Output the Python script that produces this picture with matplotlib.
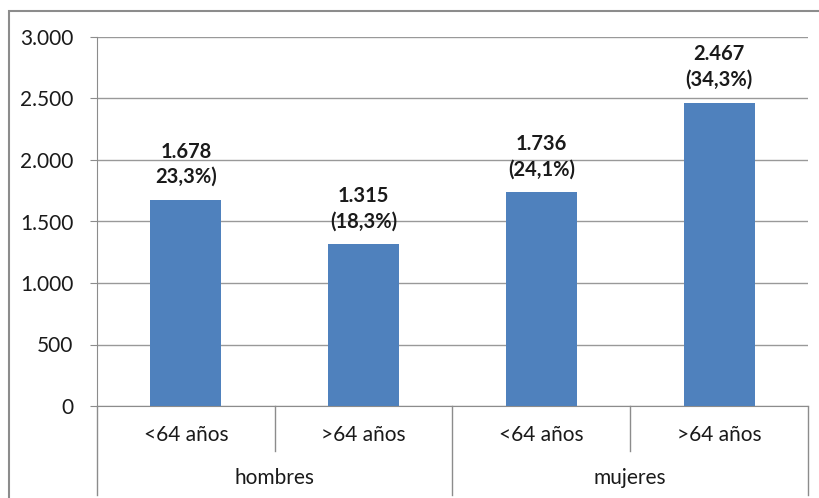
import matplotlib
matplotlib.use("Agg")
import matplotlib.pyplot as plt
from matplotlib.patches import Rectangle
from matplotlib.ticker import FuncFormatter

plt.rcParams['font.family'] = ['Lato', 'DejaVu Sans']

groups = ["hombres", "mujeres"]
subgroups = ["<64 años", ">64 años", "<64 años", ">64 años"]
values = [1678, 1315, 1736, 2467]
labels = ["1.678\n23,3%)", "1.315\n(18,3%)", "1.736\n(24,1%)", "2.467\n(34,3%)"]
yticks = [0, 500, 1000, 1500, 2000, 2500, 3000]

W, H = 820, 498
fig = plt.figure(figsize=(W / 100, H / 100), dpi=100)

# outer chart frame
fig.patches.append(Rectangle((8.5 / W, -0.1), 1.2, (H - 11) / H + 0.1,
                             transform=fig.transFigure, fill=False,
                             edgecolor="#8c8c8c", linewidth=1.5))

ax = fig.add_axes([97 / W, (H - 406) / H, (808 - 97) / W, (406 - 37) / H])
ax.set_xlim(-0.5, 3.5)
ax.set_ylim(0, 3000)

gray = "#8c8c8c"
x = list(range(len(values)))
ax.bar(x, values, width=0.4, color="#4F81BD", zorder=3)

for xi, v, lab in zip(x, values, labels):
    ax.annotate(lab, (xi, v), xytext=(0, 9), textcoords="offset points",
                ha="center", va="bottom", fontsize=14.5, fontweight="bold",
                color="#1a1a1a", linespacing=1.35)

ax.set_yticks(yticks)
ax.yaxis.set_major_formatter(FuncFormatter(lambda v, p: f"{int(v):,}".replace(",", ".")))
ax.tick_params(axis="y", length=5, color=gray, labelsize=15, pad=12, labelcolor="#1a1a1a")
ax.yaxis.grid(True, color="#999999", linewidth=1, zorder=0)
ax.set_xticks([])
for s in ["top", "right"]:
    ax.spines[s].set_visible(False)
ax.spines["left"].set_color(gray)
ax.spines["bottom"].set_color(gray)
ax.spines["left"].set_zorder(4)

# two-level category axis
ax_h = 406 - 37
trans = ax.get_xaxis_transform()
n = len(values)
for i in range(n + 1):
    edge = i - 0.5
    depth = 89 if i % 2 == 0 else 45
    ax.plot([edge, edge], [0, -depth / ax_h], color=gray, linewidth=1,
            transform=trans, clip_on=False)
for xi, s in zip(x, subgroups):
    ax.text(xi, -29 / ax_h, s, transform=trans, ha="center", va="center",
            fontsize=15, color="#1a1a1a")
for gi, g in enumerate(groups):
    ax.text(2 * gi + 0.5, -72 / ax_h, g, transform=trans, ha="center",
            va="center", fontsize=15, color="#1a1a1a")

fig.savefig("out.png", dpi=100)
